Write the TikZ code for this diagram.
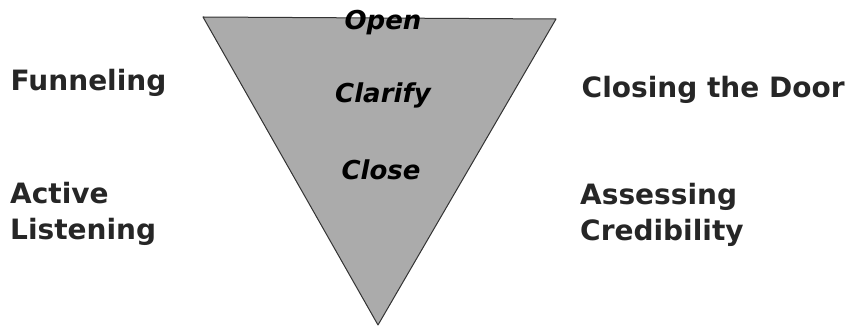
\documentclass[tikz,border=0pt]{standalone}
\usepackage{fontspec}
\setmainfont{DejaVu Sans}
\begin{document}
\begin{tikzpicture}[x=1pt,y=1pt,
  side/.style={font=\fontsize{28}{36}\selectfont\bfseries, text=black!85, inner sep=0pt, align=left},
  stage/.style={font=\fontsize{26}{30}\selectfont\bfseries\itshape, text=black, inner sep=0pt, anchor=base},
  funnel/.style={fill=black!33, draw=black!80, line width=1pt, line join=round}]
\useasboundingbox (0,0) rectangle (851,326);
\coordinate (tl) at (203,309);
\coordinate (tr) at (556,307);
\coordinate (apex) at (378,1);
\draw[funnel] (tl) -- (tr) -- (apex) -- cycle;
\node[stage] (open) at (383,296) {Open};
\node[stage] (clarify) at (383,223) {Clarify};
\node[stage] (close) at (381,146) {Close};
\node[side, anchor=base west] (funneling) at (10.5,235) {Funneling};
\node[side, anchor=north west] (active) at (10,144) {Active\\Listening};
\node[side, anchor=base west] (closing) at (581.5,228) {Closing the Door};
\node[side, anchor=north west] (assessing) at (580,143) {Assessing\\Credibility};
\end{tikzpicture}
\end{document}
